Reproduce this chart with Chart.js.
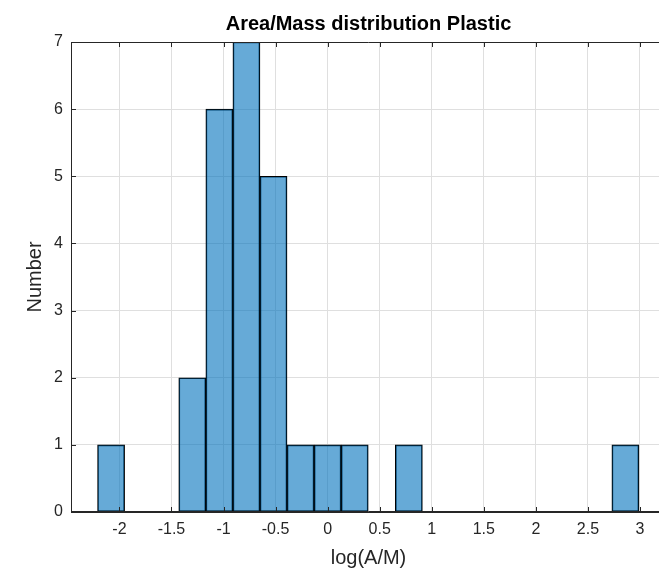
<!DOCTYPE html>
<html>
<head>
<meta charset="utf-8">
<script src="https://cdn.jsdelivr.net/npm/chart.js@4/dist/chart.umd.min.js"></script>
<style>
    html, body { margin: 0; padding: 0; background: #fff; overflow: hidden; }
    #wrap { width: 666px; height: 570px; }
</style>
</head>
<body>
<div id="wrap"><canvas id="histChart"></canvas></div>
<script>
// Histogram data (bin centres, bin width 0.26)
const binCenters = [-2.08, -1.82, -1.56, -1.30, -1.04, -0.78, -0.52, -0.26, 0.00, 0.26,
                    0.52, 0.78, 1.04, 1.30, 1.56, 1.82, 2.08, 2.34, 2.60, 2.86];
const counts = [1, 0, 0, 2, 6, 7, 5, 1, 1, 1,
                0, 1, 0, 0, 0, 0, 0, 0, 0, 1];

const xTicks = [-2, -1.5, -1, -0.5, 0, 0.5, 1, 1.5, 2, 2.5, 3];
const xTickLabels = ['-2', '-1.5', '-1', '-0.5', '0', '0.5', '1', '1.5', '2', '2.5', '3'];
const yTicks = [0, 1, 2, 3, 4, 5, 6, 7];

const axisColor = '#262626';
const gridColor = '#dfdfdf';
const fontFamily = "'Liberation Sans', Arial, Helvetica, sans-serif";

// MATLAB style box: top edge plus inward tick marks
const boxPlugin = {
    id: 'matlabBox',
    afterDatasetsDraw(chart) {
        const { ctx, chartArea: a, scales: { x, y } } = chart;
        ctx.save();
        ctx.strokeStyle = axisColor;
        ctx.lineWidth = 1;
        ctx.beginPath();
        ctx.moveTo(a.left, a.top + 0.5);
        ctx.lineTo(a.right, a.top + 0.5);
        ctx.moveTo(a.left + 0.5, a.top);
        ctx.lineTo(a.left + 0.5, a.bottom);
        ctx.moveTo(a.left, a.bottom - 0.5);
        ctx.lineTo(a.right, a.bottom - 0.5);
        xTicks.forEach(v => {
            const px = Math.round(x.getPixelForValue(v)) + 0.5;
            ctx.moveTo(px, a.bottom);
            ctx.lineTo(px, a.bottom - 5);
            ctx.moveTo(px, a.top);
            ctx.lineTo(px, a.top + 5);
        });
        yTicks.forEach(v => {
            const py = Math.round(y.getPixelForValue(v)) + 0.5;
            ctx.moveTo(a.left, py);
            ctx.lineTo(a.left + 5, py);
        });
        ctx.stroke();
        ctx.restore();
    }
};

document.addEventListener('DOMContentLoaded', function () {
    const ctx = document.getElementById('histChart');
    new Chart(ctx, {
        type: 'bar',
        data: {
            datasets: [{
                label: 'Plastic',
                data: binCenters.map((c, i) => ({ x: c, y: counts[i] > 0 ? counts[i] : null })),
                backgroundColor: 'rgba(0, 114, 189, 0.6)',
                borderColor: '#000',
                borderWidth: 1,
                borderSkipped: false,
                barPercentage: 1,
                categoryPercentage: 1
            }]
        },
        options: {
            responsive: true,
            maintainAspectRatio: false,
            animation: false,
            layout: { padding: 0 },
            plugins: {
                legend: { display: false },
                tooltip: { enabled: false },
                title: {
                    display: true,
                    text: 'Area/Mass distribution Plastic',
                    fullSize: false,
                    color: '#000',
                    font: { family: fontFamily, size: 20, weight: 'bold' },
                    padding: { top: 12, bottom: 6 }
                }
            },
            scales: {
                x: {
                    type: 'linear',
                    offset: false,
                    min: -2.465,
                    max: 3.25,
                    afterBuildTicks: s => { s.ticks = xTicks.map(v => ({ value: v })); },
                    afterFit: s => { s.height = 58; },
                    border: { display: true, color: axisColor },
                    grid: { color: gridColor, drawTicks: false, offset: false },
                    ticks: {
                        padding: 8,
                        color: axisColor,
                        maxRotation: 0,
                        font: { family: fontFamily, size: 16 },
                        callback: (v, i) => xTickLabels[i]
                    },
                    title: {
                        display: true,
                        text: 'log(A/M)',
                        color: axisColor,
                        font: { family: fontFamily, size: 20 },
                        padding: { top: 0, bottom: 0 }
                    }
                },
                y: {
                    min: 0,
                    max: 7,
                    afterBuildTicks: s => { s.ticks = yTicks.map(v => ({ value: v })); },
                    afterFit: s => { s.width = 71; },
                    border: { display: true, color: axisColor },
                    grid: { color: gridColor, drawTicks: false },
                    ticks: {
                        padding: 8,
                        color: axisColor,
                        font: { family: fontFamily, size: 16 },
                        callback: v => String(v)
                    },
                    title: {
                        display: true,
                        text: 'Number',
                        color: axisColor,
                        font: { family: fontFamily, size: 20 },
                        padding: { top: 23, bottom: 0 }
                    }
                }
            }
        },
        plugins: [boxPlugin]
    });
});
</script>
</body>
</html>
